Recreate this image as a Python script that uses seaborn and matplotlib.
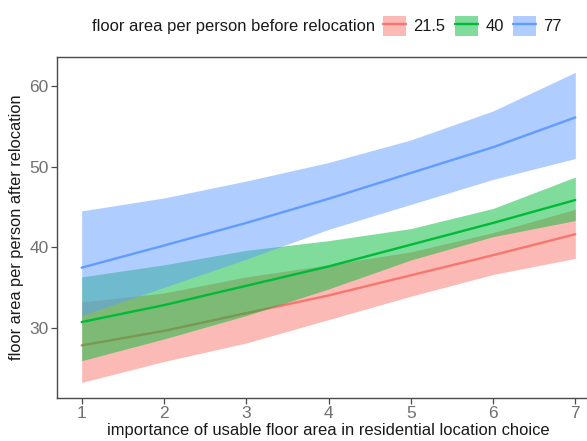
import matplotlib
matplotlib.use("Agg")
import matplotlib.pyplot as plt
import numpy as np
import pandas as pd
import seaborn as sns
from matplotlib.patches import Patch
from matplotlib.lines import Line2D

# Importance score (1-7) and predicted floor area per person after relocation,
# with confidence bounds, for three levels of floor area before relocation.
importance = [1, 2, 3, 4, 5, 6, 7]
groups = ["21.5", "40", "77"]

fit_21_5 = [27.8, 29.6, 31.8, 34.0, 36.5, 39.0, 41.6]
low_21_5 = [23.2, 25.8, 28.1, 31.0, 33.9, 36.6, 38.6]
high_21_5 = [33.2, 34.3, 36.3, 37.8, 39.4, 41.8, 44.7]

fit_40 = [30.7, 32.8, 35.2, 37.6, 40.3, 43.0, 45.85]
low_40 = [25.9, 28.6, 31.5, 34.8, 38.4, 41.3, 43.3]
high_40 = [36.3, 37.8, 39.6, 40.8, 42.3, 44.8, 48.7]

fit_77 = [37.45, 40.2, 43.0, 46.0, 49.2, 52.4, 56.1]
low_77 = [31.5, 35.0, 38.5, 42.2, 45.3, 48.4, 51.0]
high_77 = [44.5, 46.1, 48.2, 50.5, 53.3, 56.9, 61.7]

palette = {"21.5": "#F8766D", "40": "#00BA38", "77": "#619CFF"}

frames = []
for g, fit, lo, hi in zip(groups,
                          [fit_21_5, fit_40, fit_77],
                          [low_21_5, low_40, low_77],
                          [high_21_5, high_40, high_77]):
    frames.append(pd.DataFrame({"importance": importance, "fit": fit,
                                "low": lo, "high": hi, "group": g}))
df = pd.concat(frames, ignore_index=True)

sns.set_theme(style="white")
plt.rcParams["font.family"] = ["Liberation Sans", "DejaVu Sans"]

fig = plt.figure(figsize=(5.87, 4.41), dpi=100)
ax = fig.add_axes([57 / 587, 43 / 441, 543 / 587, 341 / 441])

for i, g in enumerate(groups):
    sub = df[df["group"] == g]
    ax.fill_between(sub["importance"], sub["low"], sub["high"],
                    color=palette[g], alpha=0.5, linewidth=0, zorder=2 + 2 * i)
    sns.lineplot(data=sub, x="importance", y="fit", color=palette[g],
                 linewidth=1.7, ax=ax, zorder=3 + 2 * i, legend=False)

ax.set_xlim(0.7, 7.3)
ax.set_ylim(21.27, 63.6)
ax.set_xticks(importance)
ax.set_yticks([30, 40, 50, 60])

spine_col = "#4a4a4a"
for s in ax.spines.values():
    s.set_visible(True)
    s.set_color(spine_col)
    s.set_linewidth(1.0)
ax.tick_params(axis="both", which="major", direction="out", length=4,
               width=0.9, color=spine_col, labelsize=12.5, labelcolor="#707070",
               pad=2, bottom=True, left=True)

ax.set_xlabel("importance of usable floor area in residential location choice",
              fontsize=11.9, color="#1a1a1a", labelpad=1)
ax.set_ylabel("floor area per person after relocation",
              fontsize=11.8, color="#1a1a1a", labelpad=4)

# Legend across the top: title on the left, keys to the right
fig.text(92 / 587, 1 - 26 / 441, "floor area per person before relocation",
         fontsize=11.9, color="#1a1a1a", ha="left", va="center")
handles = [(Patch(facecolor=palette[g], alpha=0.5, linewidth=0),
            Line2D([], [], color=palette[g], linewidth=1.7)) for g in groups]
fig.legend(handles, groups, loc="center left",
           bbox_to_anchor=(383 / 587, 1 - 26 / 441), ncol=3, frameon=False,
           fontsize=11.9, handlelength=1.4, handleheight=1.55,
           handletextpad=0.45, columnspacing=0.55, borderaxespad=0,
           borderpad=0.0, labelcolor="#1a1a1a")

fig.savefig("out.png", dpi=100)
